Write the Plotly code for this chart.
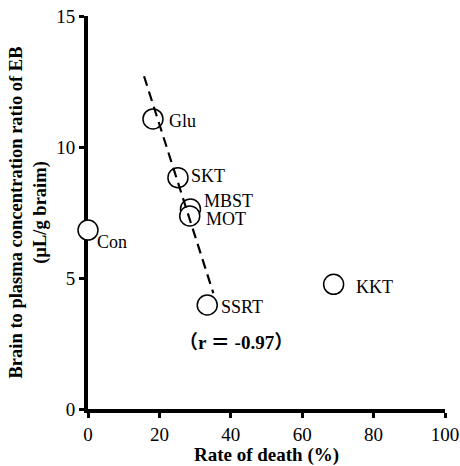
import plotly.graph_objects as go

# Data
labels = ["Con", "Glu", "SKT", "MBST", "MOT", "SSRT", "KKT"]
death_rate = [0.0, 18.2, 25.2, 28.7, 28.5, 33.4, 68.8]
eb_ratio = [6.83, 11.07, 8.83, 7.63, 7.37, 3.97, 4.76]
label_dx = [10, 17, 14, 15, 17, 15, 23]
label_dy = [-12, -2, 2, 8, -3, -2, -3]

fit_x = [15.7, 35.1]
fit_y = [12.7, 4.42]

x_ticks = [0, 20, 40, 60, 80, 100]
y_ticks = [0, 5, 10, 15]

serif = "Liberation Serif, Times New Roman, serif"

fig = go.Figure()

fig.add_trace(go.Scatter(
    x=death_rate, y=eb_ratio, mode="markers",
    marker=dict(size=20, color="white", line=dict(color="black", width=1.5)),
    cliponaxis=False, showlegend=False, hoverinfo="skip"))

fig.add_trace(go.Scatter(
    x=fit_x, y=fit_y, mode="lines",
    line=dict(color="black", width=2.2, dash="10px,6px"),
    cliponaxis=False, showlegend=False, hoverinfo="skip"))

for lab, xv, yv, dx, dy in zip(labels, death_rate, eb_ratio, label_dx, label_dy):
    fig.add_annotation(x=xv, y=yv, text=lab, showarrow=False,
                       xanchor="left", yanchor="middle", xshift=dx - 2, yshift=dy,
                       borderpad=0,
                       font=dict(family=serif, size=18, color="black"))

fig.add_annotation(x=41.4, y=2.52, text="<b>（r ＝ -0.97）</b>", showarrow=False,
                   xanchor="center", yanchor="middle",
                   font=dict(family="Liberation Serif, Noto Sans CJK JP, serif", size=19, color="black"))

fig.update_layout(
    width=460, height=466,
    margin=dict(l=88, r=15, t=16, b=57),
    paper_bgcolor="white", plot_bgcolor="white",
    font=dict(family=serif, size=18, color="black"),
    xaxis=dict(range=[0, 100], tickvals=x_ticks, showgrid=False, zeroline=False,
               showline=True, linecolor="black", linewidth=4, layer="below traces",
               ticks="outside", ticklen=5, tickwidth=3, tickcolor="black",
               automargin=False,
               tickfont=dict(family=serif, size=19),
               title=dict(text="<b>Rate of death (%)</b>", font=dict(family=serif, size=19), standoff=4)),
    yaxis=dict(range=[0, 15], tickvals=y_ticks, showgrid=False, zeroline=False,
               showline=True, linecolor="black", linewidth=4, layer="below traces",
               ticks="outside", ticklen=5, tickwidth=3, tickcolor="black",
               automargin=False,
               tickfont=dict(family=serif, size=19),
               title=dict(text="<b>Brain to plasma concentration ratio of EB<br>(µL/g braim)</b>",
                          font=dict(family=serif, size=18.5), standoff=6)),
)

fig.write_html("out.html")
